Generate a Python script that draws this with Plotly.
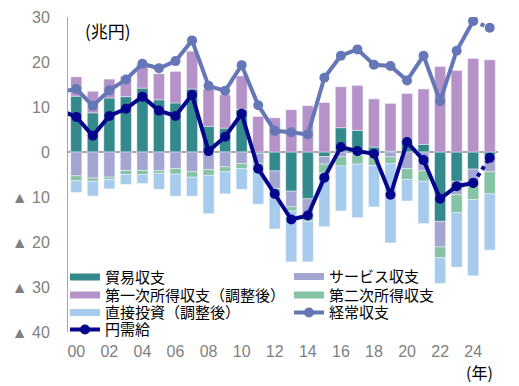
import plotly.graph_objects as go

years = list(range(2000, 2026))
line_years = list(range(1999, 2025))  # solid part (1999 is clipped by the axis range)

trade = [12.4, 8.7, 12.0, 12.3, 14.2, 11.6, 10.9, 14.0, 5.7, 5.3, 9.4,
         -0.3, -4.2, -8.7, -10.4, -1.0, 5.4, 4.8, 1.1, 0.2, 2.6, 1.7,
         -15.4, -6.5, -3.8, -0.8]
services = [-5.3, -5.8, -5.6, -4.1, -4.1, -4.1, -3.7, -4.4, -3.9, -3.3, -2.6,
            -2.2, -3.9, -3.5, -3.7, -1.7, -1.1, -0.7, -1.0, -1.1, -3.7, -4.2,
            -5.7, -3.0, -3.9, -3.6]
primary = [4.3, 4.8, 4.2, 4.5, 5.4, 5.8, 7.0, 8.4, 8.3, 7.4, 7.5,
           7.9, 7.6, 9.4, 10.3, 11.0, 9.1, 10.0, 10.7, 10.6, 10.4, 12.3,
           19.0, 18.1, 20.8, 20.5]
secondary = [-1.1, -0.7, -0.5, -0.9, -0.9, -0.6, -1.2, -1.2, -1.3, -1.1, -1.1,
             -0.8, -0.8, -0.9, -1.3, -2.0, -2.0, -2.0, -2.0, -1.5, -2.4, -2.3,
             -2.4, -4.0, -2.9, -4.9]
fdi = [-2.6, -3.3, -2.1, -2.2, -2.0, -3.6, -4.9, -4.2, -8.5, -4.9, -4.6,
       -8.3, -8.2, -11.3, -9.0, -11.9, -10.0, -11.9, -9.2, -17.6, -4.8, -9.4,
       -5.7, -12.1, -16.9, -12.5]
current_account = [13.3, 14.0, 10.3, 13.7, 16.1, 19.6, 18.6, 20.2, 24.8, 14.7, 13.6,
                   19.3, 10.4, 4.7, 4.4, 3.9, 16.5, 21.4, 22.8, 19.4, 19.1, 15.9,
                   21.4, 11.3, 22.5, 29.1]
current_account_2025 = 27.6
yen_demand = [9.3, 7.8, 3.6, 8.0, 9.6, 12.3, 9.2, 8.0, 12.7, 0.2, 3.4,
              8.5, -3.7, -9.3, -15.0, -14.1, -5.7, 1.1, 0.2, -0.4, -9.5, 2.2,
              -1.8, -10.4, -7.6, -6.9]
yen_demand_2025 = -1.3

xtick_vals = list(range(2000, 2025, 2))
xtick_text = ["%02d" % (v % 100) for v in xtick_vals]
ytick_vals = [-40, -30, -20, -10, 0, 10, 20, 30]
ytick_text = ["▲ 40", "▲ 30", "▲ 20", "▲ 10", "0", "10", "20", "30"]

c_trade = "#33898C"
c_serv = "#A4A6D1"
c_prim = "#B592C8"
c_sec = "#86C3A4"
c_fdi = "#A7CBEC"
c_ca = "#6677B8"
c_yen = "#06068C"

fig = go.Figure()
edge = dict(color="rgba(255,255,255,0.7)", width=0.6)
for name, vals, col in [("貿易収支", trade, c_trade), ("サービス収支", services, c_serv),
                        ("第一次所得収支（調整後）", primary, c_prim),
                        ("第二次所得収支", secondary, c_sec),
                        ("直接投資（調整後）", fdi, c_fdi)]:
    fig.add_trace(go.Bar(x=years, y=vals, name=name, width=0.67,
                         marker=dict(color=col, line=edge), showlegend=False,
                         hoverinfo="x+y"))

LW, MS = 4, 10
fig.add_trace(go.Scatter(x=line_years, y=current_account, mode="lines+markers",
                         line=dict(color=c_ca, width=LW), marker=dict(size=MS, color=c_ca),
                         showlegend=False))
fig.add_trace(go.Scatter(x=[line_years[-1], 2025], y=[current_account[-1], current_account_2025],
                         mode="lines+markers", line=dict(color=c_ca, width=LW, dash="dot"),
                         marker=dict(size=MS, color=c_ca), showlegend=False))
fig.add_trace(go.Scatter(x=line_years, y=yen_demand, mode="lines+markers",
                         line=dict(color=c_yen, width=LW), marker=dict(size=MS, color=c_yen),
                         showlegend=False))
fig.add_trace(go.Scatter(x=[line_years[-1], 2025], y=[yen_demand[-1], yen_demand_2025],
                         mode="lines+markers", line=dict(color=c_yen, width=LW, dash="dot"),
                         marker=dict(size=MS, color=c_yen), showlegend=False))

# legend entries (Excel-like line swatches), one legend per entry for exact placement
legend_items = [
    ("貿易収支", c_trade, "legend", False),
    ("第一次所得収支（調整後）", c_prim, "legend2", False),
    ("直接投資（調整後）", c_fdi, "legend3", False),
    ("円需給", c_yen, "legend4", True),
    ("サービス収支", c_serv, "legend5", False),
    ("第二次所得収支", c_sec, "legend6", False),
    ("経常収支", c_ca, "legend7", True),
]
for name, col, lg, mk in legend_items:
    fig.add_trace(go.Scatter(x=[None], y=[None], name=name,
                             mode="lines+markers" if mk else "lines",
                             line=dict(color=col, width=LW if mk else 7),
                             marker=dict(size=MS, color=col),
                             legend=lg, showlegend=True))

# the page body has an 8px margin, so the figure is drawn 8px smaller and all
# reference pixel positions are shifted by -8
OFF = 8
W, H = 519 - OFF, 386 - OFF
PL, PR, PT, PB = 68 - OFF, 498 - OFF, 17 - OFF, 331.7 - OFF


def px2x(px):
    return (px - OFF - PL) / (PR - PL)


def py2y(py):
    return (PB - (py - OFF)) / (PB - PT)


def leg(xpx, ypx):
    return dict(x=px2x(xpx), y=py2y(ypx),
                xanchor="left", yanchor="middle", bgcolor="rgba(0,0,0,0)",
                borderwidth=0, itemwidth=30,
                font=dict(family="Noto Sans CJK JP", size=15, color="black"))


fig.update_layout(
    width=W, height=H,
    margin=dict(l=PL, r=W - PR, t=PT, b=H - PB, autoexpand=False),
    paper_bgcolor="white", plot_bgcolor="white",
    barmode="relative",
    legend=leg(65, 277), legend2=leg(65, 295), legend3=leg(65, 312.5), legend4=leg(65, 329.5),
    legend5=leg(289, 276.5), legend6=leg(289, 295), legend7=leg(289, 312.5),
    xaxis=dict(range=[1999.5, 2025.5], tickvals=xtick_vals, ticktext=xtick_text,
               showgrid=False, zeroline=False, showline=False, ticks="",
               ticklabelstandoff=8,
               tickfont=dict(family="Liberation Sans, Arial", size=16, color="#808080")),
    yaxis=dict(range=[-40, 30], tickvals=ytick_vals, ticktext=ytick_text,
               showgrid=False, zeroline=True, zerolinecolor="#A6A6A6", zerolinewidth=2,
               showline=True, linecolor="#A6A6A6", linewidth=1, ticks="",
               ticklabelstandoff=14,
               tickfont=dict(family="Liberation Sans, Arial", size=16, color="#808080")),
    annotations=[
        dict(text="(兆円)", xref="paper", yref="paper", x=px2x(83), y=py2y(30),
             xanchor="left", yanchor="middle", showarrow=False,
             font=dict(family="Noto Sans CJK JP", size=17, color="black")),
        dict(text="(年)", xref="paper", yref="paper", x=px2x(479), y=py2y(372),
             xanchor="center", yanchor="middle", showarrow=False,
             font=dict(family="Noto Sans CJK JP", size=16, color="black")),
    ],
)

fig.write_html("out.html")
